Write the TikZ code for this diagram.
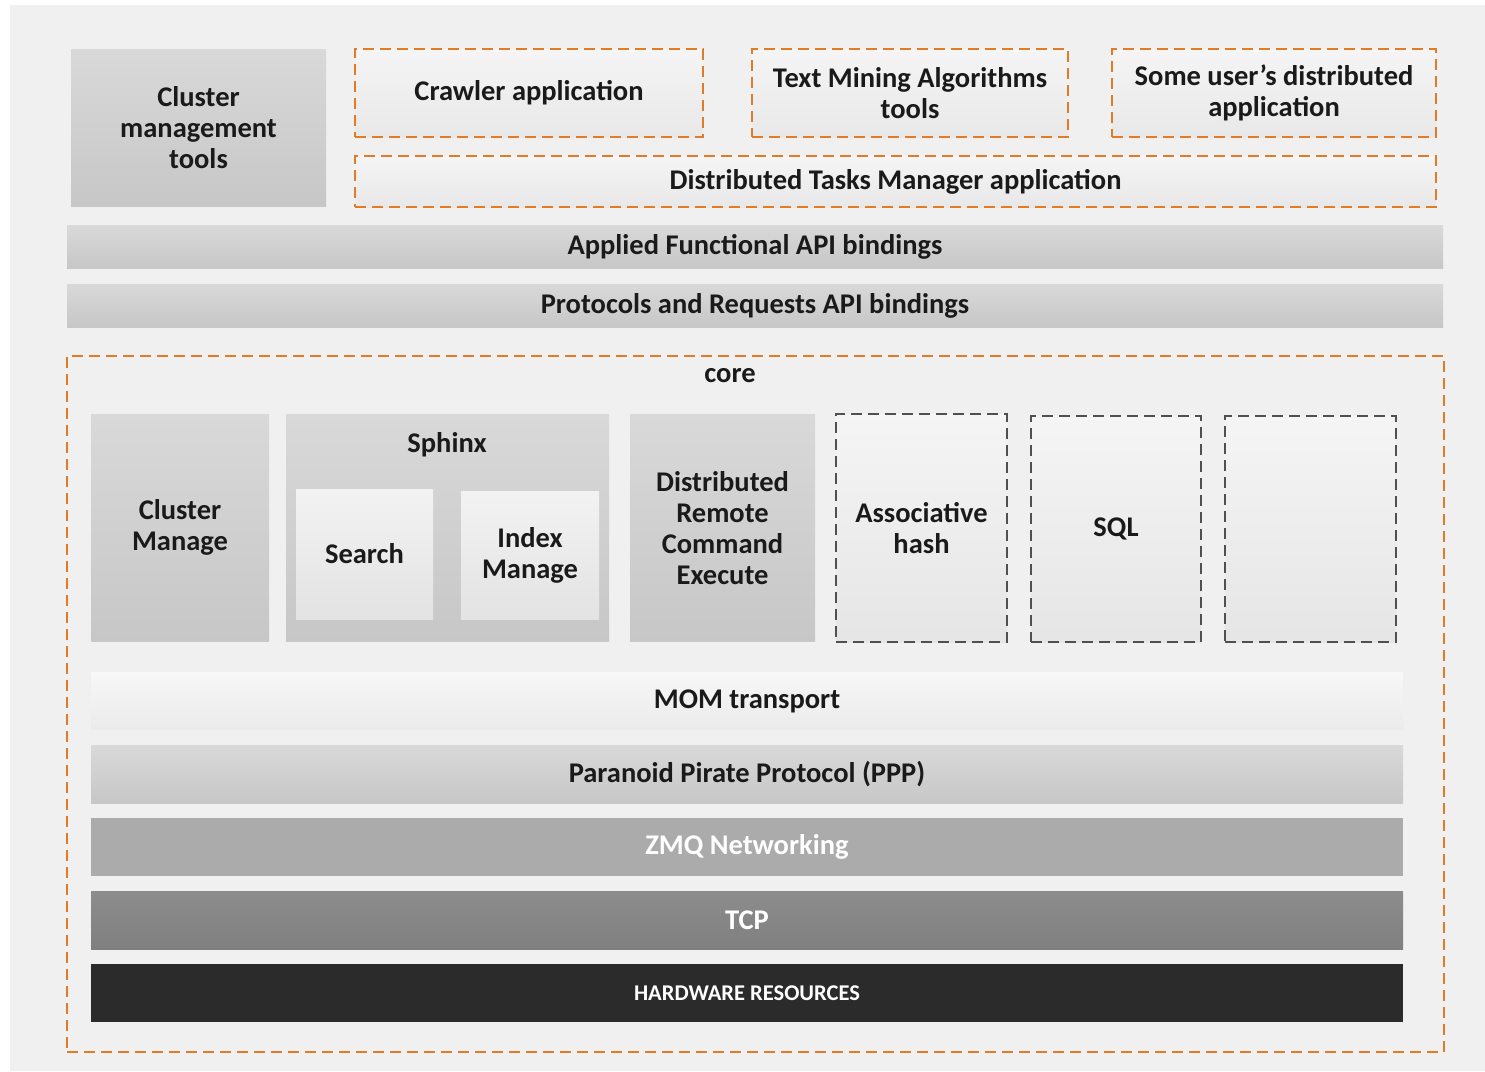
\documentclass[tikz,border=0pt]{standalone}
\usepackage{fontspec}
\setmainfont{Carlito}
\definecolor{panel}{HTML}{F0F0F0}
\definecolor{orng}{HTML}{E07B28}
\definecolor{dgray}{HTML}{505050}
\definecolor{txt}{HTML}{1A1A1A}
\begin{document}
\begin{tikzpicture}[x=1pt,y=-1pt,
  base/.style={inner sep=0pt, outer sep=0pt, align=center, text=txt,
    font=\fontsize{28.5}{31}\selectfont\bfseries},
  graybox/.style={base, top color=black!15, bottom color=black!22},
  lightbox/.style={base, top color=black!5, bottom color=black!11},
  orangebox/.style={base, top color=black!4, bottom color=black!9,
    draw=orng, line width=1.6pt, dash pattern=on 11pt off 6pt},
  greybox/.style={base, top color=black!4, bottom color=black!10,
    draw=dgray, line width=1.6pt, dash pattern=on 11pt off 6pt},
  wh/.style={base, text=white},
  sz/.style 2 args={minimum width=#1pt, minimum height=#2pt}
]
\useasboundingbox (0,0) rectangle (1485,1071);
\fill[white] (0,0) rectangle (1485,1071);
\fill[panel] (10,5) rectangle (1485,1071);

% top applications
\node[graybox, sz={255}{157}] (cmt) at (198.5,127.5) {Cluster\\management\\tools};
\node[orangebox, sz={348}{88}] (crawl) at (529,93) {Crawler application};
\node[orangebox, sz={316}{88}] (tm) at (910,93) {Text Mining Algorithms\\tools};
\node[orangebox, sz={324}{88}] (user) at (1274,93) {Some user’s distributed\\application};
\node[orangebox, sz={1081}{51}] (dtm) at (895.5,181.5) {Distributed Tasks Manager application};

% bindings
\node[graybox, sz={1376}{43}] (afa) at (755,246.5) {Applied Functional API bindings};
\node[graybox, sz={1376}{43}] (pra) at (755,305.5) {Protocols and Requests API bindings};

% core
\node[base, draw=orng, line width=1.6pt, dash pattern=on 11pt off 6pt,
  sz={1377}{696}] (core) at (755.5,704) {};
\node[base] (corelbl) at (730,376) {core};

\node[graybox, sz={178}{227}] (cm) at (180,527.5) {Cluster\\Manage};
\node[graybox, sz={323}{227}] (sphinx) at (447.5,527.5) {};
\node[base] (sphinxlbl) at (447,445) {Sphinx};
\node[lightbox, sz={137}{130}] (search) at (364.5,554) {Search};
\node[lightbox, sz={138}{128}] (index) at (530,555) {Index\\Manage};
\node[graybox, sz={185}{227}] (drce) at (722.5,528) {Distributed\\Remote\\Command\\Execute};
\node[greybox, sz={171}{228}] (ah) at (921.5,528) {Associative\\hash};
\node[greybox, sz={170}{226}] (sql) at (1116,529) {SQL};
\node[greybox, sz={171}{226}] (empty) at (1310.5,529) {};

% layers
\node[base, top color=black!3, bottom color=black!8, sz={1312}{57}] (mom) at (747,701) {MOM transport};
\node[graybox, sz={1312}{58}] (ppp) at (747,774) {Paranoid Pirate Protocol (PPP)};
\node[wh, fill=black!33, sz={1312}{58}] (zmq) at (747,847) {ZMQ Networking};
\node[wh, top color=black!45, bottom color=black!50, sz={1312}{58}] (tcp) at (747,920) {TCP};
\node[wh, fill=black!83, sz={1312}{58}, font=\fontsize{22.5}{26}\selectfont\bfseries] (hw) at (747,993) {HARDWARE RESOURCES};
\end{tikzpicture}
\end{document}
